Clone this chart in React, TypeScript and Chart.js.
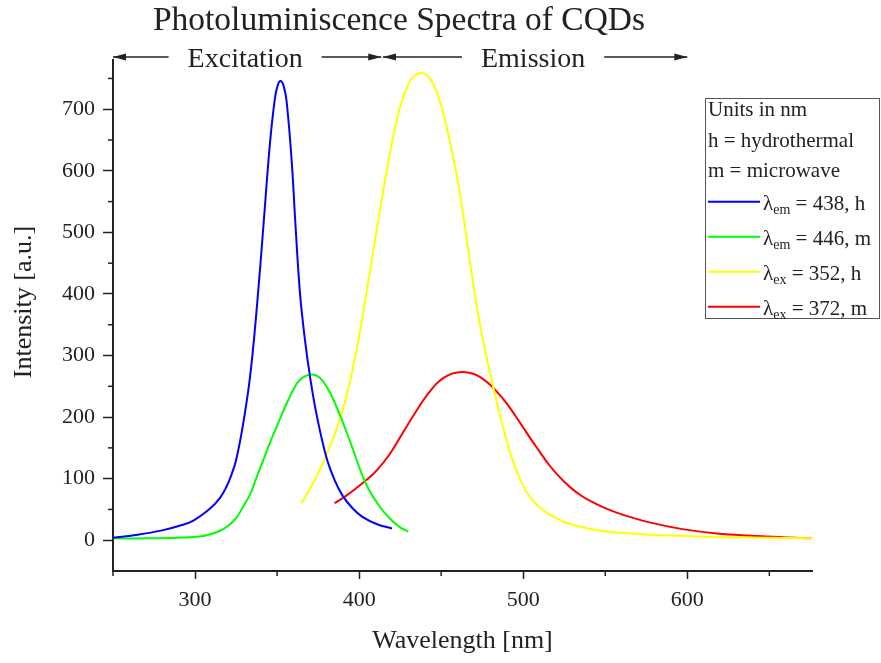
import React, { useEffect, useRef } from "react";
import { Chart, registerables } from "chart.js";

Chart.register(...registerables);

// ---- data ----
const blueX = [250, 265, 280, 290, 299, 309, 315, 319, 322, 325, 329, 333.5, 337.5, 341.6, 345.6, 348.7, 350.5, 352.2, 354, 355.8, 358.9, 361.3, 364, 367, 370, 374, 380, 385, 390, 396, 402, 411, 420];
const blueY = [4, 9, 16, 23, 32, 51, 68, 86, 105, 130, 184, 265, 373, 508, 643, 718, 740, 746, 738, 713, 616, 508, 400, 325, 267, 205, 135, 98, 72, 52, 38, 26, 19];

const greenX = [250, 270, 289, 305, 315, 320, 325, 329, 333.5, 337.5, 341.6, 345.6, 349.7, 355.8, 361.9, 366, 371, 375, 378, 382, 386, 390, 394, 398, 402, 406, 410.6, 415, 420.7, 425, 430];
const greenY = [3, 3, 4, 7, 15, 23, 36, 53, 74, 102, 130, 158, 184, 222, 254, 265, 269, 266, 258, 241, 218, 192, 164, 134, 105, 82, 62, 46, 30, 21, 14];

const yellowX = [365, 374, 382, 390, 398, 406, 412.6, 418.7, 424.8, 430.9, 434.5, 438.6, 442.5, 447.1, 451, 455.2, 461.3, 467.4, 473.5, 481.6, 489.7, 494, 499.8, 505, 512, 520, 530, 546, 560, 577, 600, 620, 650, 676];
const yellowY = [60, 103, 151, 211, 303, 427, 535, 627, 702, 746, 756, 759, 752, 730, 696, 650, 565, 455, 352, 250, 163, 126, 89, 67, 49, 36, 25, 16, 12, 9, 7, 5, 4, 3];

const redX = [385, 392, 398, 404, 410.6, 418.7, 428.8, 439, 445, 449.1, 453, 457, 461, 465, 470, 475, 480, 485, 490, 495, 500, 505, 510, 515, 520, 525, 530, 535, 540, 550, 560, 577, 597, 618, 648, 676];
const redY = [60, 72, 84, 97, 113, 140, 184, 227, 248, 259, 266, 271, 273, 273, 270, 263, 252, 238, 222, 203, 183, 163, 144, 125, 109, 95, 83, 73, 65, 52, 42, 29, 18, 11, 6, 3];

const seriesX = [blueX, greenX, yellowX, redX];
const seriesY = [blueY, greenY, yellowY, redY];
const seriesColors = ["#0000ff", "#00ff00", "#ffff00", "#ff0000"];
const seriesSub = ["em", "em", "ex", "ex"];
const seriesRest = [" = 438, h", " = 446, m", " = 352, h", " = 372, m"];
const legendHeader = ["Units in nm", "h = hydrothermal", "m = microwave"];

const xMajorTicks = [300, 400, 500, 600];
const xMinorTicks = [250, 350, 450, 550, 650];
const yMajorTicks = [0, 100, 200, 300, 400, 500, 600, 700];
const yMinorTicks = [50, 150, 250, 350, 450, 550, 650, 750];

const annStart = [250, 414.5];
const annEnd = [413.5, 600];
const annText = ["Excitation", "Emission"];

const titleText = "Photoluminiscence Spectra of CQDs";
const xTitle = "Wavelength [nm]";
const yTitle = "Intensity [a.u.]";

const FONT = "'Liberation Serif', 'Times New Roman', Times, serif";
const INK = "#222";

function drawArrow(ctx: CanvasRenderingContext2D, xFrom: number, xTip: number, y: number) {
  ctx.beginPath();
  ctx.moveTo(xFrom, y);
  ctx.lineTo(xTip, y);
  ctx.stroke();
  const dir = Math.sign(xTip - xFrom);
  ctx.beginPath();
  ctx.moveTo(xTip, y);
  ctx.lineTo(xTip - dir * 13, y - 3.5);
  ctx.lineTo(xTip - dir * 13, y + 3.5);
  ctx.closePath();
  ctx.fill();
}

const overlay = {
  id: "overlay",
  afterDraw(chart: any) {
    const ctx: CanvasRenderingContext2D = chart.ctx;
    const xs = chart.scales.x;
    const ys = chart.scales.y;
    const area = chart.chartArea;
    ctx.save();
    ctx.strokeStyle = INK;
    ctx.fillStyle = INK;
    ctx.lineWidth = 1.5;
    // minor ticks
    for (const v of xMinorTicks) {
      const px = xs.getPixelForValue(v);
      ctx.beginPath();
      ctx.moveTo(px, area.bottom);
      ctx.lineTo(px, area.bottom + 5);
      ctx.stroke();
    }
    for (const v of yMinorTicks) {
      const py = ys.getPixelForValue(v);
      ctx.beginPath();
      ctx.moveTo(area.left, py);
      ctx.lineTo(area.left - 5, py);
      ctx.stroke();
    }
    // main title
    ctx.font = `33.5px ${FONT}`;
    ctx.textAlign = "center";
    ctx.textBaseline = "alphabetic";
    ctx.fillText(titleText, 399, 30);
    // axis titles
    ctx.font = `26px ${FONT}`;
    ctx.fillText(xTitle, (area.left + area.right) / 2, 648);
    ctx.save();
    ctx.translate(31, 302);
    ctx.rotate(-Math.PI / 2);
    ctx.fillText(yTitle, 0, 0);
    ctx.restore();
    // excitation / emission annotation
    ctx.font = `28px ${FONT}`;
    ctx.lineWidth = 1.3;
    const ay = 57;
    for (let i = 0; i < annText.length; i++) {
      const xa = xs.getPixelForValue(annStart[i]);
      const xb = xs.getPixelForValue(annEnd[i]);
      const c = (xa + xb) / 2 - 2;
      const w = ctx.measureText(annText[i]).width;
      ctx.fillText(annText[i], c, 67);
      drawArrow(ctx, c - w / 2 - 19, xa, ay);
      drawArrow(ctx, c + w / 2 + 19, xb, ay);
    }
    // legend
    ctx.lineWidth = 1;
    ctx.strokeStyle = "#555";
    ctx.strokeRect(705.5, 98.5, 174, 220);
    ctx.textAlign = "left";
    ctx.font = `21px ${FONT}`;
    const headerBase = [116, 147, 177];
    legendHeader.forEach((t, i) => ctx.fillText(t, 708, headerBase[i]));
    const itemY = [201.7, 236.7, 271.7, 306.7];
    for (let i = 0; i < seriesColors.length; i++) {
      const y = itemY[i];
      ctx.strokeStyle = seriesColors[i];
      ctx.lineWidth = 2;
      ctx.beginPath();
      ctx.moveTo(708, y);
      ctx.lineTo(760, y);
      ctx.stroke();
      let x = 763;
      ctx.font = `21px ${FONT}`;
      ctx.fillText("\u03bb", x, y + 8);
      x += ctx.measureText("\u03bb").width;
      ctx.font = `14px ${FONT}`;
      ctx.fillText(seriesSub[i], x, y + 12);
      x += ctx.measureText(seriesSub[i]).width;
      ctx.font = `21px ${FONT}`;
      ctx.fillText(seriesRest[i], x, y + 8);
    }
    ctx.restore();
  },
};

export default function App() {
  const ref = useRef<HTMLCanvasElement | null>(null);
  useEffect(() => {
    if (!ref.current) return;
    const datasets = seriesX.map((xsArr, i) => ({
      label: `\u03bb${seriesSub[i]}${seriesRest[i]}`,
      data: xsArr.map((x, j) => ({ x, y: seriesY[i][j] })),
      borderColor: seriesColors[i],
      backgroundColor: seriesColors[i],
      borderWidth: 2,
      pointRadius: 0,
      fill: false,
      tension: 0.4,
    }));
    const chart = new Chart(ref.current, {
      type: "line",
      data: { datasets },
      options: {
        responsive: false,
        animation: false,
        layout: { padding: { left: 0, right: 69, top: 60, bottom: 0 } },
        plugins: { legend: { display: false }, title: { display: false }, tooltip: { enabled: false } },
        scales: {
          x: {
            type: "linear",
            min: 250,
            max: 676,
            afterBuildTicks: (s: any) => {
              s.ticks = xMajorTicks.map((v) => ({ value: v }));
            },
            afterFit: (s: any) => {
              s.height = 92;
            },
            grid: { display: true, drawOnChartArea: false, drawTicks: true, tickLength: 8, tickWidth: 1.5, tickColor: INK },
            border: { display: true, color: INK, width: 2 },
            ticks: { font: { family: FONT, size: 22 }, color: INK, padding: 8, maxRotation: 0, autoSkip: false },
          },
          y: {
            type: "linear",
            min: -50,
            max: 780,
            afterBuildTicks: (s: any) => {
              s.ticks = yMajorTicks.map((v) => ({ value: v }));
            },
            afterFit: (s: any) => {
              s.width = 113;
            },
            grid: { display: true, drawOnChartArea: false, drawTicks: true, tickLength: 10, tickWidth: 1.5, tickColor: INK },
            border: { display: true, color: INK, width: 2 },
            ticks: { font: { family: FONT, size: 22 }, color: INK, padding: 8, autoSkip: false },
          },
        },
      },
      plugins: [overlay],
    });
    return () => chart.destroy();
  }, []);
  return (
    <div style={{ position: "fixed", left: 0, top: 0, width: 881, height: 663, background: "#fff" }}>
      <canvas ref={ref} width={881} height={663} style={{ display: "block" }} />
    </div>
  );
}
